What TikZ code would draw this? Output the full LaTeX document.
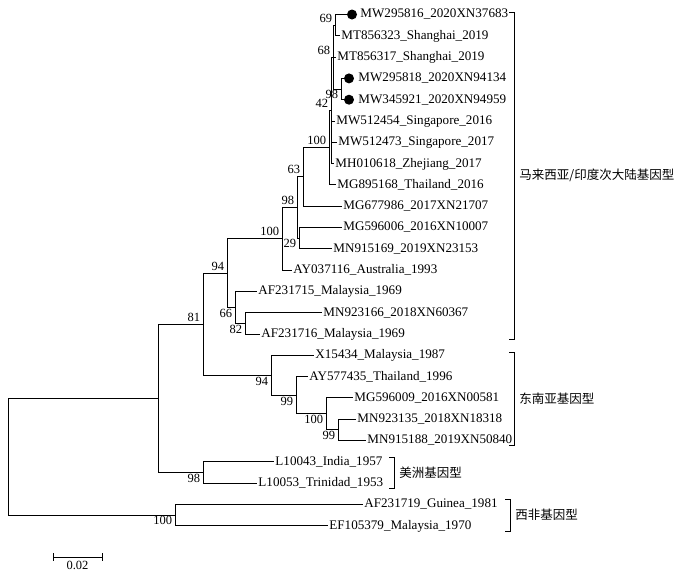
\documentclass[tikz,border=0pt]{standalone}
\usepackage{fontspec}
\setmainfont{Liberation Serif}
\newfontfamily\cjk{Noto Sans CJK SC}
\usetikzlibrary{positioning}

\begin{document}
\begin{tikzpicture}[x=1pt,y=-1pt,line width=0.9pt,
 leaf/.style={anchor=west,inner sep=1.5pt,text height=0.68em,text depth=0pt,
 font=\fontsize{13.1}{14}\selectfont},
 bsa/.style={anchor=south east,inner sep=2.5pt,text height=0.68em,text depth=0pt,
 font=\fontsize{12.5}{14}\selectfont},
 bsb/.style={bsa,anchor=north east},
 dot/.style={circle,fill,inner sep=0pt,minimum size=10pt},
 clade/.style={anchor=west,inner sep=1pt,font=\cjk\fontsize{12.5}{15}\selectfont}]
 \useasboundingbox (0,0) rectangle (679,574);
 % leaves
 \foreach \i/\x/\y/\t in {1/358.5/14.5/MW295816\_2020XN37683,
 2/339.5/35.8/MT856323\_Shanghai\_2019, 3/335.5/57.1/MT856317\_Shanghai\_2019,
 4/356.5/78.4/MW295818\_2020XN94134, 5/356.5/99.7/MW345921\_2020XN94959,
 6/334.5/121.0/MW512454\_Singapore\_2016, 7/336.5/142.3/MW512473\_Singapore\_2017,
 8/333.5/163.6/MH010618\_Zhejiang\_2017, 9/335.5/184.9/MG895168\_Thailand\_2016,
 10/341.5/206.2/MG677986\_2017XN21707, 11/341.5/227.5/MG596006\_2016XN10007,
 12/331.5/248.8/MN915169\_2019XN23153, 13/291.5/270.1/AY037116\_Australia\_1993,
 14/256.5/291.4/AF231715\_Malaysia\_1969, 15/321.5/312.7/MN923166\_2018XN60367,
 16/259.5/334.0/AF231716\_Malaysia\_1969, 17/313.5/355.3/X15434\_Malaysia\_1987,
 18/307.5/376.6/AY577435\_Thailand\_1996, 19/352.5/397.9/MG596009\_2016XN00581,
 20/355.5/419.2/MN923135\_2018XN18318, 21/365.5/440.5/MN915188\_2019XN50840,
 22/273.5/461.8/L10043\_India\_1957, 23/256.5/483.1/L10053\_Trinidad\_1953,
 24/362.5/504.4/AF231719\_Guinea\_1981, 25/327.5/525.7/EF105379\_Malaysia\_1970}
 \node[leaf] (l\i) at (\x,\y) {\t};
 \foreach \i/\x/\y in {1/352/14.5,4/349/78.4,5/349/99.7}
 \node[dot] (d\i) at (\x,\y) {};
 % inner nodes
 \foreach \n/\x/\y in {t69/335/25.15, t98a/341/89.05, t68/333/57.1, t42/331/110.35,
 t100a/329/147.6, t63/303/176.9, t29/299/238.15, t98b/297/207.5, t100b/282/238.8,
 t82/245/323.35, t66/235/307.4, t94a/227/273.1, t99c/338/429.85, t100c/326/413.9,
 t99b/296/395.25, t94b/271/375.3, t81/203/324.2, t98c/203/472.45, tIn/158/398.3,
 t100d/175/515.05, tR/8/456.7}
 \coordinate (\n) at (\x,\y);
 % branches
 \foreach \p/\c in {tR/tIn, tR/t100d, tIn/t81, tIn/t98c, t81/t94a, t81/t94b,
 t94a/t100b, t94a/t66, t100b/t98b, t100b/l13.west, t98b/t63, t98b/t29,
 t63/t100a, t63/l10.west, t100a/t42, t100a/l9.west, t42/t68, t42/l6.west,
 t42/l7.west, t42/l8.west, t68/t69, t68/l3.west, t68/t98a, t69/d1.west,
 t69/l2.west, t98a/d4.west, t98a/d5.west, t29/l11.west, t29/l12.west,
 t66/l14.west, t66/t82, t82/l15.west, t82/l16.west, t94b/l17.west, t94b/t99b,
 t99b/l18.west, t99b/t100c, t100c/l19.west, t100c/t99c, t99c/l20.west,
 t99c/l21.west, t98c/l22.west, t98c/l23.west, t100d/l24.west, t100d/l25.west}
 \draw (\p) |- (\c);
 % bootstrap values
 \foreach \n/\v in {t69/69, t68/68, t42/42, t100a/100, t63/63, t98b/98, t100b/100,
 t94a/94, t81/81}
 \node[bsa] (v\n) at (\n) {\v};
 \foreach \n/\v in {t98a/98, t29/29, t66/66, t82/82, t94b/94, t99b/99, t100c/100,
 t99c/99, t98c/98, t100d/100}
 \node[bsb] (v\n) at (\n) {\v};
 % genotype brackets
 \foreach \x/\ya/\yb/\n/\t in {514/12/339/gMI/{马来西亚/印度次大陆基因型},
 514/352/445/gSE/东南亚基因型, 394/457/488/gAm/美洲基因型, 510/499/531/gWA/西非基因型}
 {\draw (\x-5,\ya) -| (\x,\yb) -- ++(-5,0);
 \node[clade] (\n) at (\x+4,{(\ya+\yb)/2}) {\t};}
 % scale bar
 \coordinate (sa) at (53,557);
 \coordinate (sb) at (102,557);
 \draw (sa) -- (sb) (sa) ++(0,-4) -- ++(0,8) (sb) ++(0,-4) -- ++(0,8);
 \node[text height=0.68em,text depth=0pt,font=\fontsize{12.5}{14}\selectfont]
 (sl) at (77.5,566) {0.02};
\end{tikzpicture}
\end{document}
